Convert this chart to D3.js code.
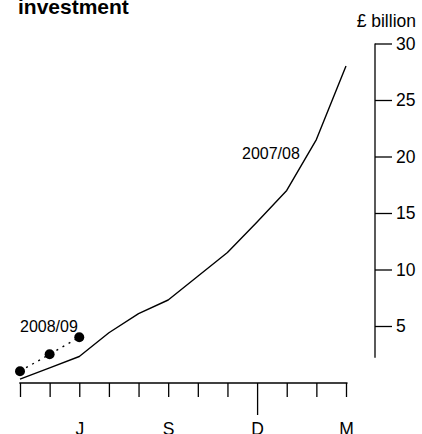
<!DOCTYPE html>
<html><head><meta charset="utf-8">
<script src="https://cdn.jsdelivr.net/npm/d3@7"></script>
<style>body{margin:0;background:#fff}svg{display:block}text{font-family:"Liberation Sans",Arial,sans-serif;fill:#000}</style>
</head><body>
<svg id="c" width="422" height="434"></svg>
<script>
const months = ["A","M","J","J","A","S","O","N","D","J","F","M"];
const monthLabels = ["","","J","","","S","","","D","","","M"];
const series0708 = [0.3,1.3,2.3,4.4,6.1,7.3,9.4,11.5,14.2,17.0,21.5,28.0];
const series0809 = [1.0,2.5,4.0];
const yTicks = [5,10,15,20,25,30];

const svg = d3.select("#c");
const x = d3.scalePoint().domain(d3.range(months.length)).range([20,346]);
const y = d3.scaleLinear().domain([0,30]).range([382.5,43.5]);

// title
svg.append("text").attr("x",18).attr("y",14).attr("font-size",21).attr("font-weight","bold").text("investment");
svg.append("text").attr("x",416).attr("y",26.5).attr("text-anchor","end").attr("font-size",17.5).text("£ billion");

// y axis
const ya = svg.append("g").attr("transform","translate(375,0)")
  .call(d3.axisRight(y).tickValues(yTicks).tickSize(17).tickSizeOuter(0).tickPadding(4).tickFormat(d3.format("d")));
ya.select(".domain").remove();
ya.selectAll(".tick line").attr("stroke","#000").attr("stroke-width",1.3);
ya.selectAll(".tick text").attr("font-size",17.5).attr("font-family","Liberation Sans, Arial, sans-serif").attr("fill","#000");
ya.append("line").attr("x1",0).attr("x2",0).attr("y1",y(30)).attr("y2",y(2.2)).attr("stroke","#000").attr("stroke-width",1.3);

// x axis
const xa = svg.append("g").attr("transform","translate(0,383)")
  .call(d3.axisBottom(x).tickSize(14).tickSizeOuter(0).tickFormat(i=>monthLabels[i]));
xa.select(".domain").remove();
xa.append("line").attr("x1",x(0)-0.7).attr("x2",x(11)+1.5).attr("y1",0).attr("y2",0).attr("stroke","#000").attr("stroke-width",1.6);
xa.selectAll(".tick line").attr("stroke","#000").attr("stroke-width",1.3).attr("y2",i=>i===8?32:14);
xa.selectAll(".tick text").attr("y",40).attr("font-size",17.5).attr("font-family","Liberation Sans, Arial, sans-serif").attr("fill","#000");

// 2007/08 line
const line = d3.line().x((d,i)=>x(i)).y(d=>y(d));
svg.append("path").datum(series0708).attr("d",line).attr("fill","none").attr("stroke","#000").attr("stroke-width",1.4).attr("stroke-linejoin","round");

// 2008/09 dotted + dots
svg.append("path").datum(series0809).attr("d",line).attr("fill","none").attr("stroke","#000").attr("stroke-width",1.4).attr("stroke-dasharray","2,5");
svg.selectAll(".dot").data(series0809).enter().append("circle").attr("cx",(d,i)=>x(i)).attr("cy",d=>y(d)).attr("r",5).attr("fill","#000");

// labels
svg.append("text").attr("x",242).attr("y",158.5).attr("font-size",16).text("2007/08");
svg.append("text").attr("x",20).attr("y",332).attr("font-size",16).text("2008/09");
</script>
</body></html>
